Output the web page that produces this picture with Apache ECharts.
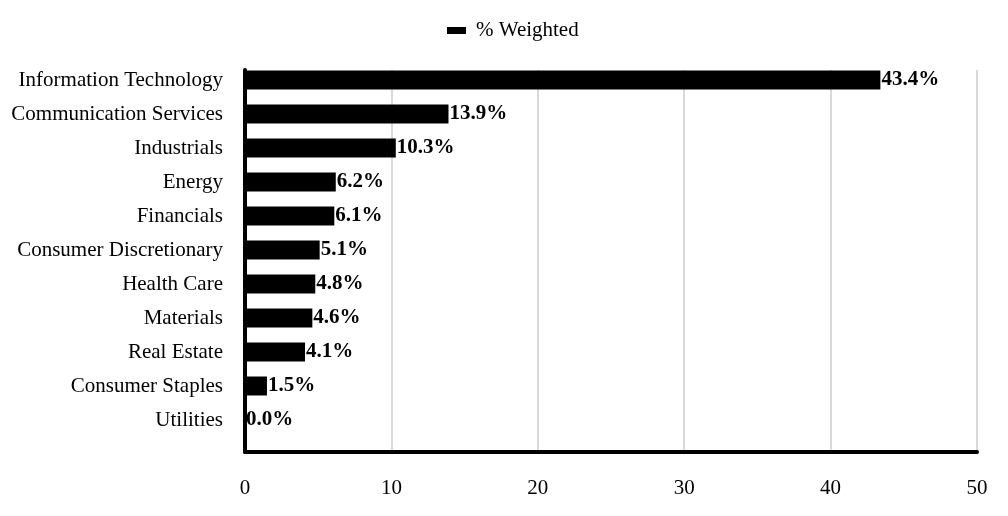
<!DOCTYPE html>
<html lang="en">
<head>
    <meta charset="UTF-8">
    <title>Sector Weights</title>
    <style>
        html, body { margin: 0; padding: 0; background: #fff; }
        #main { width: 1008px; height: 516px; }
    </style>
</head>
<body>
<div id="main"></div>
<script src="https://cdn.jsdelivr.net/npm/echarts@6/dist/echarts.min.js"></script>
<script type="text/javascript">
    var sectors = ['Information Technology', 'Communication Services', 'Industrials', 'Energy', 'Financials',
        'Consumer Discretionary', 'Health Care', 'Materials', 'Real Estate', 'Consumer Staples', 'Utilities'];
    var weights = [43.4, 13.9, 10.3, 6.2, 6.1, 5.1, 4.8, 4.6, 4.1, 1.5, 0.0];
    var xTicks = [0, 10, 20, 30, 40, 50];

    var font = 'Liberation Serif';
    var myChart = echarts.init(document.getElementById('main'));

    var option = {
        animation: false,
        textStyle: { fontFamily: font },
        legend: {
            data: ['% Weighted'],
            left: 442,
            top: 15,
            itemWidth: 19,
            itemHeight: 7,
            itemGap: 10,
            icon: 'rect',
            textStyle: { fontFamily: font, fontSize: 21, color: '#000', padding: [0, 0, 0, 5] }
        },
        // grid 0 holds the bars, grid 1 only draws the frame and gridlines
        grid: [
            { left: 245, right: 31, top: 63, bottom: 79 },
            { left: 245, right: 31, top: 70, bottom: 64 }
        ],
        xAxis: [
            { gridIndex: 0, type: 'value', min: 0, max: 50, interval: 10, show: false },
            {
                gridIndex: 1, type: 'value', min: xTicks[0], max: xTicks[xTicks.length - 1], interval: 10,
                axisLine: { show: true, lineStyle: { color: '#000', width: 4 } },
                axisTick: { show: false },
                axisLabel: { margin: 26, fontFamily: font, fontSize: 21, color: '#000' },
                splitLine: { show: true, lineStyle: { color: '#d9d9d9', width: 2 } }
            }
        ],
        yAxis: [
            {
                gridIndex: 0, type: 'category', inverse: true, data: sectors,
                axisLine: { show: false },
                axisTick: { show: false },
                splitLine: { show: false },
                axisLabel: { margin: 22, fontFamily: font, fontSize: 21, color: '#000' }
            },
            {
                gridIndex: 1, type: 'category', data: [''],
                axisLine: { show: true, lineStyle: { color: '#000', width: 4 } },
                axisTick: { show: false },
                axisLabel: { show: false },
                splitLine: { show: false }
            }
        ],
        series: [
            {
                name: '% Weighted',
                type: 'bar',
                xAxisIndex: 0,
                yAxisIndex: 0,
                data: weights,
                barWidth: 19,
                itemStyle: { color: '#000' },
                label: {
                    show: true,
                    position: 'right',
                    distance: 1,
                    fontFamily: font,
                    fontSize: 21,
                    fontWeight: 'bold',
                    color: '#000',
                    formatter: function (p) { return p.value.toFixed(1) + '%'; }
                }
            }
        ]
    };
    myChart.setOption(option);
</script>
</body>
</html>
